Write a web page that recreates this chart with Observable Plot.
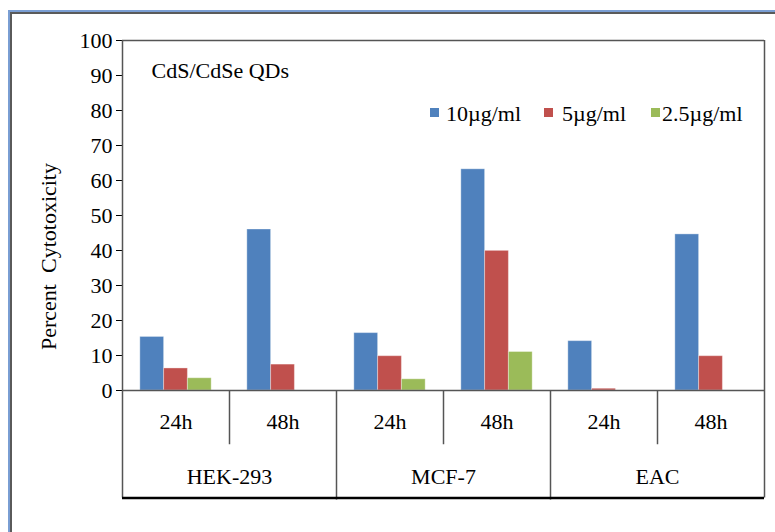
<!DOCTYPE html>
<html>
<head>
<meta charset="utf-8">
<script src="https://cdn.jsdelivr.net/npm/d3@7"></script>
<script src="https://cdn.jsdelivr.net/npm/@observablehq/plot@0.6"></script>
<style>
html, body { margin: 0; padding: 0; background: #fff; }
#wrap { position: relative; width: 775px; height: 532px; overflow: hidden; font-family: "Liberation Serif", "Times New Roman", serif; }
#wrap svg { position: absolute; left: 0; top: 0; }
#wrap text { white-space: pre; }
.border1 { position: absolute; left: 8px; top: 10px; width: 900px; height: 700px; border-left: 2px solid #7a9ed3; border-top: 2px solid #7a9ed3; box-sizing: border-box; }
.border2 { position: absolute; left: 10px; top: 12px; width: 900px; height: 700px; border-left: 2px solid #5a5a5a; border-top: 2px solid #5a5a5a; box-sizing: border-box; }
</style>
</head>
<body>
<div id="wrap"><div class="border1"></div><div class="border2"></div></div>
<script>
// ---- data ----
const cellLines = ["HEK-293", "MCF-7", "EAC"];
const times = ["24h", "48h"];
const series = ["10µg/ml", "5µg/ml", "2.5µg/ml"];
const colors = ["#4F81BD", "#C0504D", "#9BBB59"];
const yTicks = [0, 10, 20, 30, 40, 50, 60, 70, 80, 90, 100];
const title = "CdS/CdSe QDs";
const yLabel = "Percent  Cytotoxicity";
// values per slot: HEK 24h, HEK 48h, MCF 24h, MCF 48h, EAC 24h, EAC 48h
const conc10 = [15.3, 46.0, 16.4, 63.2, 14.1, 44.6];
const conc5 = [6.3, 7.4, 9.8, 39.9, 0.5, 9.8];
const conc2_5 = [3.5, null, 3.2, 11.0, null, null];

// ---- build tables ----
const slots = cellLines.flatMap(c => times.map(t => ({cell: c, time: t, key: c + " " + t})));
const slotKeys = slots.map(d => d.key);
const seriesValues = [conc10, conc5, conc2_5];
const rows = [];
slots.forEach((s, i) => series.forEach((name, j) => {
  const v = seriesValues[j][i];
  if (v != null) rows.push({key: s.key, series: name, value: v});
}));

// ---- layout ----
const W = 775, H = 532;
const ML = 122, MR = 11, MT = 40, MB = 142;
const lineColor = "#555";
// table below the axis, expressed in y units of the shared y scale
const timeRowBottom = -15.5;
const tableBottom = -30.7;
const timeLabelY = -9.0;
const groupLabelY = -24.8;

const baseStyle = {fontFamily: "'Liberation Serif', 'Times New Roman', serif", fontSize: "22px", color: "#000", background: "transparent", overflow: "visible"};

// Layer 1: bars (faceted by slot) and y axis
const p1 = Plot.plot({
  width: W, height: H,
  marginLeft: ML, marginRight: MR, marginTop: MT, marginBottom: MB,
  style: baseStyle,
  fx: {domain: slotKeys, padding: 0, axis: null, label: null, round: false},
  x: {domain: series, paddingInner: 0, paddingOuter: 0.75, axis: null, label: null, round: false},
  y: {domain: [0, 100], ticks: yTicks, tickSize: 6, tickPadding: 4, label: null},
  color: {domain: series, range: colors},
  marks: [
    Plot.barY(rows, {fx: "key", x: "series", y: "value", fill: "series", stroke: "#fff", strokeOpacity: 0.35, strokeWidth: 1})
  ]
});

// Layer 2: frame, category table, title and y label
const n = slots.length;
const outer = [0, n];
const groupBounds = d3.range(times.length, n, times.length);
const timeBounds = d3.range(1, n).filter(i => i % times.length !== 0);
const p2 = Plot.plot({
  width: W, height: H,
  marginLeft: ML, marginRight: MR, marginTop: MT, marginBottom: MB,
  style: baseStyle,
  x: {domain: [0, n], axis: null},
  y: {domain: [0, 100], axis: null},
  marks: [
    Plot.ruleY([100], {stroke: lineColor, strokeWidth: 1.5}),
    Plot.ruleY([0], {stroke: lineColor, strokeWidth: 1.5}),
    Plot.ruleX(outer, {y1: tableBottom, y2: 100, stroke: lineColor, strokeWidth: 1.5}),
    Plot.ruleX(groupBounds, {y1: tableBottom - 0.6, y2: 0, stroke: lineColor, strokeWidth: 1.5}),
    Plot.ruleX(timeBounds, {y1: timeRowBottom, y2: 0, stroke: lineColor, strokeWidth: 1.5}),
    Plot.ruleY([tableBottom], {stroke: "#000", strokeWidth: 2.5}),
    Plot.text(slots, {x: (d, i) => i + 0.5, y: timeLabelY, text: "time", fill: "#000"}),
    Plot.text(cellLines, {x: (d, i) => i * times.length + times.length / 2, y: groupLabelY, text: d => d, fill: "#000"}),
    Plot.text([title], {frameAnchor: "top-left", textAnchor: "start", lineAnchor: "top", dx: 29, dy: 22, text: d => d, fill: "#000"}),
    Plot.text([yLabel], {frameAnchor: "left", textAnchor: "middle", lineAnchor: "middle", rotate: -90, dx: -74, dy: 41, text: d => d, fill: "#000"})
  ]
});

const wrap = document.getElementById("wrap");
wrap.appendChild(p1);
wrap.appendChild(p2);

// Legend
const legendSquares = [430, 544, 651];
const legendTexts = [446, 562, 662];
const leg = d3.select(wrap).append("svg").attr("width", W).attr("height", H)
  .style("font-family", "'Liberation Serif', 'Times New Roman', serif").style("font-size", "22px");
series.forEach((s, i) => {
  leg.append("rect").attr("x", legendSquares[i]).attr("y", 108).attr("width", 9).attr("height", 9).attr("fill", colors[i]);
  leg.append("text").attr("x", legendTexts[i]).attr("y", 120.5).text(s);
});
</script>
</body>
</html>
